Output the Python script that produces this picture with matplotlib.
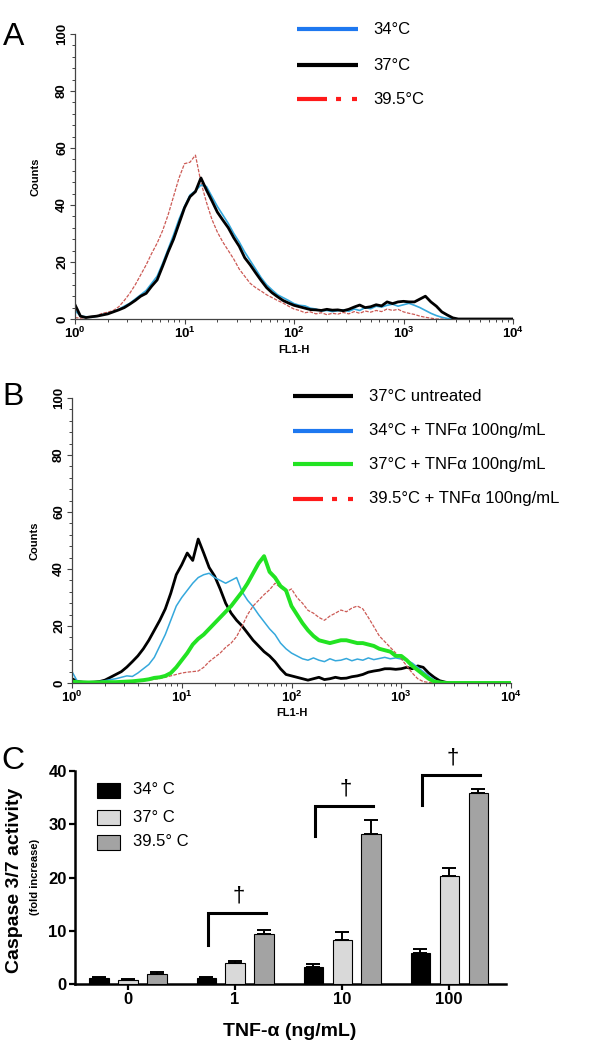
import numpy as np
import matplotlib
matplotlib.use("Agg")
from matplotlib import pyplot as plt
from matplotlib.lines import Line2D
from matplotlib.patches import Rectangle
from matplotlib.ticker import MultipleLocator, LogLocator, NullFormatter

plt.rcParams["font.family"] = ["Liberation Sans", "DejaVu Sans"]
plt.rcParams["mathtext.fontset"] = "custom"
plt.rcParams["mathtext.rm"] = "Liberation Sans"
plt.rcParams["mathtext.bf"] = "Liberation Sans:bold"
plt.rcParams["lines.scale_dashes"] = False

W, H = 600, 1050

# ---- histogram data: counts per FL1-H bin, bins every 0.05 decade from 10^0
STEP = 0.05

a_34 = [3, 1, 0.8, 0.6, 1.0, 1.5, 1.8, 2.6, 3.4, 4.5, 5.5, 7.0, 8.5, 10.0, 12.5, 15.0,
        19.5, 24.5, 29.5, 35.0, 39.5, 43.5, 45.0, 47.0, 46.5, 43.0, 39.5, 36.5, 33.5, 30.0,
        27.0, 23.5, 20.5, 17.5, 14.5, 12.0, 10.2, 8.5, 7.5, 6.5, 5.4, 4.8, 4.6, 3.8, 3.5,
        2.8, 3.0, 2.6, 2.9, 3.2, 2.7, 3.5, 3.0, 4.0, 3.6, 4.5, 4.2, 4.8, 5.2, 4.5, 5.0,
        5.5, 4.8, 4.0, 3.0, 2.0, 1.2, 0.6, 0.2, 0, 0, 0, 0, 0, 0, 0, 0, 0, 0, 0, 0]
a_37 = [5, 1, 0.5, 0.8, 1.0, 1.4, 1.8, 2.5, 3.2, 4.0, 5.2, 6.5, 8.0, 9.0, 11.5, 13.7,
        18.5, 23.5, 28.0, 33.5, 39.0, 42.9, 44.7, 49.5, 45.3, 41.5, 37.5, 34.7, 32.0, 28.5,
        25.5, 21.5, 19.0, 16.2, 13.5, 11.0, 9.2, 7.8, 6.5, 5.6, 4.8, 4.3, 3.8, 3.3, 3.2,
        3.0, 3.4, 3.1, 3.2, 2.9, 3.4, 4.2, 4.9, 4.0, 4.3, 5.0, 4.6, 6.0, 5.4, 6.0, 6.2,
        6.0, 6.0, 7.0, 8.0, 6.0, 4.5, 2.5, 1.4, 0.4, 0, 0, 0, 0, 0, 0, 0, 0, 0, 0, 0]
a_395 = [0.5, 0.3, 0.5, 0.8, 1.2, 2.0, 2.4, 3.0, 4.3, 6.5, 9.0, 12.0, 15.5, 19.0, 23.0,
         26.6, 31.0, 36.5, 43.0, 49.5, 54.5, 55.0, 57.5, 48.0, 41.0, 35.0, 30.5, 27.0, 24.0,
         21.0, 17.5, 15.0, 12.5, 11.0, 9.8, 8.5, 7.5, 6.5, 5.6, 4.5, 3.5, 3.0, 2.2, 2.5,
         1.8, 2.2, 1.5, 2.0, 1.7, 2.3, 1.8, 2.6, 2.0, 2.8, 2.4, 3.0, 2.6, 3.5, 3.0, 3.4,
         2.5, 2.0, 1.6, 1.0, 0.6, 0.3, 0, 0, 0, 0, 0, 0, 0, 0, 0, 0, 0, 0, 0, 0, 0]

b_untreated = [1.5, 0.5, 0.3, 0.2, 0.3, 0.5, 1.0, 2.0, 3.0, 4.0, 5.6, 7.5, 9.5, 12.0, 15.0,
               18.5, 22.0, 26.0, 31.5, 38.0, 41.5, 45.6, 43.0, 50.5, 45.6, 40.5, 37.5, 33.0,
               28.0, 24.5, 22.0, 20.0, 17.5, 15.0, 13.0, 11.0, 9.5, 7.5, 5.0, 3.0, 2.5, 2.0,
               1.5, 1.0, 1.5, 2.0, 1.2, 1.5, 2.0, 1.6, 1.7, 2.2, 2.5, 3.0, 3.8, 4.2, 4.5, 5.0,
               5.0, 4.8, 5.0, 5.5, 5.0, 6.0, 5.5, 3.5, 2.0, 0.8, 0.3, 0, 0, 0, 0, 0, 0, 0, 0,
               0, 0, 0, 0]
b_34_tnf = [4, 0.5, 0.3, 0.2, 0.3, 0.5, 0.8, 1.2, 1.5, 2.0, 2.5, 2.3, 3.5, 5.0, 6.5, 9.0,
            13.0, 17.0, 22.0, 27.0, 30.0, 32.5, 35.0, 37.0, 38.0, 38.5, 37.0, 36.0, 35.0,
            36.0, 37.0, 32.0, 29.0, 26.8, 24.0, 21.5, 19.0, 17.0, 14.0, 12.0, 10.5, 9.5, 8.5,
            8.0, 8.8, 8.0, 7.5, 8.5, 7.8, 8.0, 8.6, 7.8, 8.4, 8.0, 8.8, 8.2, 8.6, 9.0, 8.5,
            8.8, 8.4, 8.0, 7.0, 5.5, 4.0, 2.5, 1.0, 0.4, 0, 0, 0, 0, 0, 0, 0, 0, 0, 0, 0, 0, 0]
b_37_tnf = [0.5, 0.3, 0.2, 0.2, 0.2, 0.2, 0.3, 0.3, 0.3, 0.4, 0.5, 0.6, 0.8, 1.0, 1.3, 1.8,
            2.0, 2.5, 3.5, 5.5, 8.0, 10.5, 13.5, 15.5, 17.0, 19.0, 21.0, 23.0, 25.0, 27.0,
            29.5, 32.0, 35.0, 38.5, 42.0, 44.5, 39.0, 37.0, 34.0, 32.5, 27.0, 24.0, 21.0,
            18.5, 16.5, 15.0, 14.5, 14.0, 14.5, 15.0, 15.0, 14.5, 14.0, 14.0, 13.5, 13.0,
            12.0, 11.5, 11.0, 9.5, 9.5, 8.0, 6.0, 4.5, 3.0, 1.5, 0.5, 0.2, 0, 0, 0, 0, 0, 0,
            0, 0, 0, 0, 0, 0, 0]
b_395_tnf = [0.3, 0.2, 0.2, 0.2, 0.2, 0.2, 0.2, 0.3, 0.3, 0.3, 0.4, 0.5, 0.6, 0.8, 1.0, 1.3,
             1.6, 2.0, 2.5, 3.0, 3.5, 3.8, 4.0, 4.2, 5.5, 7.5, 9.0, 10.5, 12.5, 14.0, 16.3,
             20.0, 24.0, 27.0, 29.0, 31.0, 32.7, 35.0, 33.5, 32.0, 33.0, 30.0, 28.0, 25.5,
             24.5, 23.0, 22.0, 23.5, 24.5, 25.6, 25.0, 26.3, 27.0, 26.0, 23.0, 19.8, 16.5,
             14.5, 12.5, 10.5, 8.5, 6.0, 3.5, 1.5, 0.5, 0.2, 0, 0, 0, 0, 0, 0, 0, 0, 0, 0, 0,
             0, 0, 0, 0]

# ---- caspase bar data
doses = ["0", "1", "10", "100"]
temps = ["34° C", "37° C", "39.5° C"]
casp_34 = [1.1, 1.1, 3.2, 5.8]
casp_37 = [0.7, 4.0, 8.3, 20.3]
casp_395 = [1.9, 9.3, 28.2, 35.9]
err_34 = [0.2, 0.2, 0.5, 0.8]
err_37 = [0.2, 0.3, 1.4, 1.4]
err_395 = [0.3, 0.8, 2.6, 0.7]
sig_groups = [1, 2, 3]
bracket_low = [7.3, 27.8, 33.6]
bracket_top = [13.3, 33.4, 39.2]


def fl1(counts):
    return 10 ** (STEP * np.arange(len(counts)))


def style_hist(ax):
    ax.set_xscale("log")
    ax.set_xlim(1, 1e4)
    ax.set_ylim(0, 100)
    for s in ["top", "right"]:
        ax.spines[s].set_visible(False)
    for s in ["left", "bottom"]:
        ax.spines[s].set_color("#444444")
        ax.spines[s].set_linewidth(0.9)
    ax.yaxis.set_major_locator(MultipleLocator(20))
    ax.yaxis.set_minor_locator(MultipleLocator(4))
    ax.xaxis.set_minor_locator(LogLocator(base=10, subs=np.arange(2, 10), numticks=50))
    ax.xaxis.set_minor_formatter(NullFormatter())
    ax.set_xticks([1, 10, 100, 1000, 10000])
    ax.set_xticklabels([r"$\mathbf{10^{%d}}$" % k for k in range(5)], fontsize=9.5)
    ax.tick_params(axis="both", which="major", length=3.5, width=0.8, color="#444444", pad=1.5)
    ax.tick_params(axis="both", which="minor", length=2, width=0.7, color="#444444")
    for lab in ax.get_yticklabels():
        lab.set_rotation(90)
        lab.set_va("center")
        lab.set_fontweight("bold")
        lab.set_fontsize(9.5)
    ax.set_ylabel("Counts", fontsize=8, fontweight="bold")
    ax.set_xlabel("FL1-H", fontsize=8, fontweight="bold")


def legend_rows(fig, rows, x0, x1, xt, ys):
    for (label, color, ls), y in zip(rows, ys):
        fig.add_artist(Line2D([x0 / W, x1 / W], [1 - y / H, 1 - y / H], color=color,
                              lw=3, ls=ls, solid_capstyle="butt", dash_capstyle="butt",
                              transform=fig.transFigure))
        fig.text(xt / W, 1 - y / H, label, fontsize=12, va="center", ha="left")


red_dash = (0, (21.6, 6.5, 3.6, 7.9, 3.6, 20))

fig = plt.figure(figsize=(6, 10.5), dpi=100)

# ---------------- panel A
axA = fig.add_axes([75 / W, 1 - 319 / H, 438 / W, 285 / H])
axA.plot(fl1(a_395), a_395, color="#cc5a55", lw=0.9, ls=(0, (2.5, 1)))
axA.plot(fl1(a_34), a_34, color="#35a8dc", lw=1.2)
axA.plot(fl1(a_37), a_37, color="black", lw=2.0)
style_hist(axA)
axA.yaxis.set_label_coords(-0.078, 0.5)
axA.xaxis.set_label_coords(0.5, -0.092)
legend_rows(fig, [("34°C", "#1e78f0", "-"), ("37°C", "black", "-"),
                  ("39.5°C", "#ff1a1a", red_dash)], 297, 358, 373, [29, 65, 99])

# ---------------- panel B
axB = fig.add_axes([72 / W, 1 - 683 / H, 439 / W, 285 / H])
axB.plot(fl1(b_untreated), b_untreated, color="black", lw=2.0)
axB.plot(fl1(b_34_tnf), b_34_tnf, color="#35a8dc", lw=1.1)
axB.plot(fl1(b_395_tnf), b_395_tnf, color="#cc5a55", lw=0.9, ls=(0, (2.5, 1)))
axB.plot(fl1(b_37_tnf), b_37_tnf, color="#22e322", lw=2.8)
style_hist(axB)
axB.yaxis.set_label_coords(-0.075, 0.5)
axB.xaxis.set_label_coords(0.5, -0.088)
legend_rows(fig, [("37°C untreated", "black", "-"),
                  ("34°C + TNFα 100ng/mL", "#1e78f0", "-"),
                  ("37°C + TNFα 100ng/mL", "#22e322", "-"),
                  ("39.5°C + TNFα 100ng/mL", "#ff1a1a", red_dash)],
            293, 353, 369, [396, 431, 464, 499])

# ---------------- panel C
axC = fig.add_axes([75 / W, 1 - 984 / H, 431 / W, 213 / H])
xc = np.arange(len(doses))
off, bw = 0.27, 0.18
err_kw = dict(ecolor="black", elinewidth=1.4, capsize=5, capthick=1.4)
for vals, errs, col, d in [(casp_34, err_34, "black", -off),
                           (casp_37, err_37, "#d9d9d9", 0),
                           (casp_395, err_395, "#a3a3a3", off)]:
    axC.bar(xc + d, vals, bw, color=col, edgecolor="black", linewidth=0.8,
            yerr=[np.zeros(len(errs)), errs], error_kw=err_kw, zorder=3)
for g, lo, top in zip(sig_groups, bracket_low, bracket_top):
    axC.plot([g - 0.255, g - 0.255, g + 0.29], [lo, top, top], color="black", lw=2.2,
             solid_joinstyle="miter", clip_on=False)
    axC.text(g + 0.03, top + 1.3, "†", fontsize=16, ha="center", va="bottom", clip_on=False)
axC.set_xlim(-0.495, 3.53)
axC.set_ylim(0, 40)
axC.set_xticks(xc)
axC.set_xticklabels(doses, fontsize=12, fontweight="bold")
axC.set_yticks([0, 10, 20, 30, 40])
axC.set_yticklabels(["0", "10", "20", "30", "40"], fontsize=12, fontweight="bold")
for s in ["top", "right"]:
    axC.spines[s].set_visible(False)
for s in ["left", "bottom"]:
    axC.spines[s].set_linewidth(1.8)
axC.tick_params(length=4, width=1.6, pad=2)

# legend C
for (label, col), y in zip(zip(temps, ["black", "#d9d9d9", "#a3a3a3"]), [790, 817, 842]):
    fig.add_artist(Rectangle((97 / W, 1 - (y + 7.5) / H), 23 / W, 15 / H, facecolor=col,
                             edgecolor="black", lw=0.8, transform=fig.transFigure))
    fig.text(133 / W, 1 - y / H, label, fontsize=12, va="center", ha="left")

fig.text(15 / W, 1 - 880 / H, "Caspase 3/7 activity", rotation=90, fontsize=14,
         fontweight="bold", ha="center", va="center")
fig.text(35 / W, 1 - 877 / H, "(fold increase)", rotation=90, fontsize=8,
         fontweight="bold", ha="center", va="center")
fig.text(290 / W, 1 - 1032 / H, "TNF-α (ng/mL)", fontsize=14, fontweight="bold",
         ha="center", va="center")

# panel letters
fig.text(14 / W, 1 - 37 / H, "A", fontsize=23, ha="center", va="center")
fig.text(13 / W, 1 - 397 / H, "B", fontsize=23, ha="center", va="center")
fig.text(13 / W, 1 - 761 / H, "C", fontsize=23, ha="center", va="center")

fig.savefig("out.png", dpi=100)
